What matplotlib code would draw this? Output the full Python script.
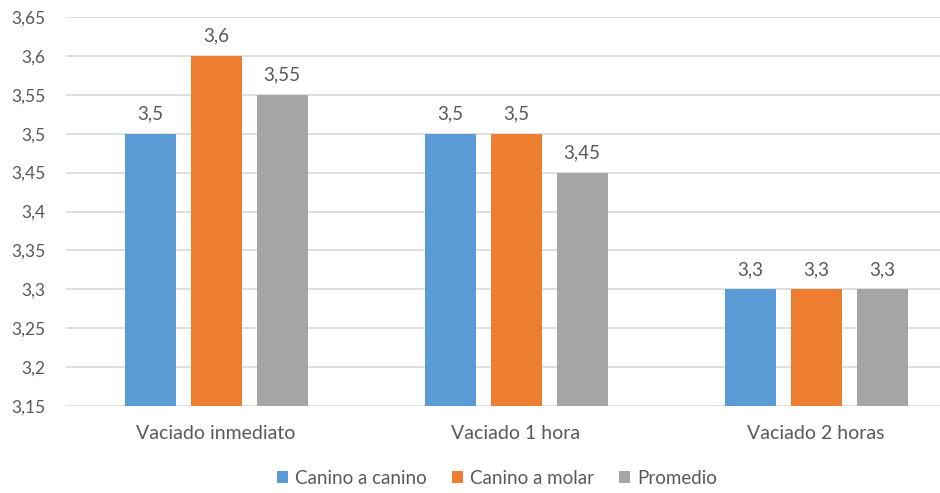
import numpy as np
from matplotlib import pyplot as plt

categorias = ["Vaciado inmediato", "Vaciado 1 hora", "Vaciado 2 horas"]
series = ["Canino a canino", "Canino a molar", "Promedio"]
canino_canino = [3.5, 3.5, 3.3]
canino_molar = [3.6, 3.5, 3.3]
promedio = [3.55, 3.45, 3.3]
valores = [canino_canino, canino_molar, promedio]
colores = ["#5B9BD5", "#ED7D31", "#A5A5A5"]
yTicks = [3.15, 3.2, 3.25, 3.3, 3.35, 3.4, 3.45, 3.5, 3.55, 3.6, 3.65]

plt.rcParams['font.family'] = ['Lato', 'DejaVu Sans']
gris = "#595959"

fig = plt.figure(figsize=(9.4, 4.93), dpi=100)
ax = fig.add_axes([66/940, 1-406/493, 900/940, 389/493])

x = np.arange(len(categorias))
paso = 0.22
ancho = 0.17
for i, (nombre, vals, col) in enumerate(zip(series, valores, colores)):
    pos = x + (i-1)*paso
    ax.bar(pos, np.array(vals)-3.15, ancho, bottom=3.15, color=col, label=nombre, zorder=3)
    for p, v in zip(pos, vals):
        etiqueta = ("%g" % v).replace(".", ",")
        ax.annotate(etiqueta, (p, v), xytext=(0, 8), textcoords="offset points",
                    ha="center", va="bottom", fontsize=13.5, color=gris)

ax.set_xlim(-0.5, 2.5)
ax.set_ylim(3.15, 3.65)
ax.set_yticks(yTicks)
ax.set_yticklabels([("%g" % t).replace(".", ",") for t in yTicks])
ax.set_xticks(x)
ax.set_xticklabels(categorias)
ax.tick_params(axis="both", length=0, labelcolor=gris)
ax.tick_params(axis="y", pad=15, labelsize=12.5)
ax.tick_params(axis="x", pad=14, labelsize=14)
ax.grid(axis="y", color="#D9D9D9", linewidth=1.2, zorder=0)
for s in ax.spines.values():
    s.set_visible(False)

fig.legend(loc="center", bbox_to_anchor=(497/940, 1-478/493), ncol=3, frameon=False,
           fontsize=13.5, labelcolor=gris, handlelength=0.6, handleheight=0.6,
           handletextpad=0.4, columnspacing=1.3)

plt.savefig("out.png", dpi=100)
plt.close()
